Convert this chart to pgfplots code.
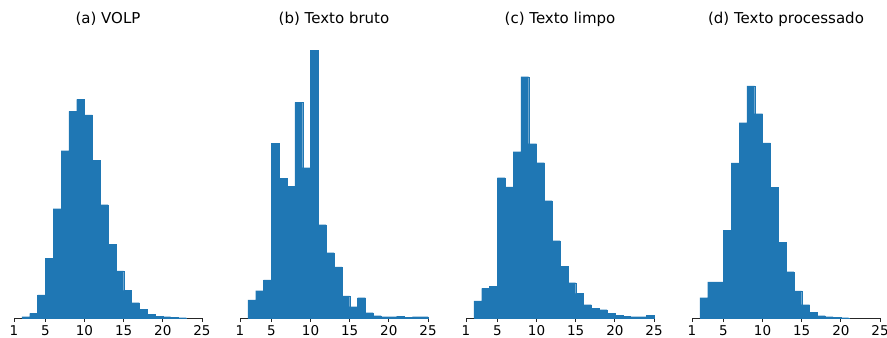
\documentclass[border=0pt]{standalone}
\usepackage{pgfplots}
\pgfplotsset{compat=1.18}
\usepackage{fontspec}
\setmainfont{DejaVu Sans}
\definecolor{tabblue}{HTML}{1F77B4}
\pgfplotsset{
  histpanel/.style={
    scale only axis,
    width=188bp, height=282bp,
    anchor=south west,
    xmin=1, xmax=25, ymin=0, ymax=846,
    axis x line=bottom, axis y line=none,
    axis line style={-, line width=0.8bp, black!85},
    xtick={1,5,10,15,20,25},
    tick align=outside,
    major tick length=4bp,
    tick style={line width=0.8bp, black!85},
    /pgf/number format/assume math mode=true,
    xticklabel style={font=\fontsize{13.5bp}{15bp}\selectfont, anchor=north, inner sep=0pt, yshift=-3.5bp},
    title style={at={(0.5,1)}, anchor=base, yshift=7bp, inner sep=0pt, font=\fontsize{15bp}{18bp}\selectfont},
    ybar, bar width=1, bar shift=0pt,
    clip=false,
  },
  histbars/.style={fill=tabblue, draw=tabblue, line width=0.3bp},
}
\begin{document}
\begin{tikzpicture}
\path[use as bounding box] (0,0) rectangle (887bp,338bp);
\begin{axis}[histpanel, at={(14bp,20bp)}, title={(a) VOLP}]
\addplot[histbars] coordinates {
(2.5,4) (3.5,14) (4.5,69) (5.5,179) (6.5,328) (7.5,502) (8.5,620) (9.5,656)
(10.5,609) (11.5,473) (12.5,340) (13.5,221) (14.5,141) (15.5,83) (16.5,46)
(17.5,26) (18.5,11) (19.5,6) (20.5,4) (21.5,2) (22.5,1)};
\end{axis}
\begin{axis}[histpanel, at={(240bp,20bp)}, title={(b) Texto bruto}]
\addplot[histbars] coordinates {
(2.5,54) (3.5,82) (4.5,114) (5.5,524) (6.5,419) (7.5,395) (8.5,647) (9.5,451)
(10.5,803) (11.5,280) (12.5,196) (13.5,153) (14.5,66) (15.5,34) (16.5,61)
(17.5,16) (18.5,7) (19.5,4) (20.5,4) (21.5,6) (22.5,2) (23.5,4) (24.5,4)};
\end{axis}
\begin{axis}[histpanel, at={(466bp,20bp)}, title={(c) Texto limpo}]
\addplot[histbars] coordinates {
(2.5,51) (3.5,89) (4.5,95) (5.5,421) (6.5,393) (7.5,499) (8.5,724) (9.5,523)
(10.5,466) (11.5,352) (12.5,232) (13.5,155) (14.5,106) (15.5,74) (16.5,40)
(17.5,29) (18.5,25) (19.5,14) (20.5,8) (21.5,6) (22.5,4) (23.5,4) (24.5,8)};
\end{axis}
\begin{axis}[histpanel, at={(692bp,20bp)}, title={(d) Texto processado}]
\addplot[histbars] coordinates {
(2.5,61) (3.5,108) (4.5,108) (5.5,263) (6.5,465) (7.5,586) (8.5,696) (9.5,613)
(10.5,525) (11.5,392) (12.5,227) (13.5,139) (14.5,81) (15.5,40) (16.5,17)
(17.5,7) (18.5,4) (19.5,2) (20.5,1)};
\end{axis}
\end{tikzpicture}
\end{document}
